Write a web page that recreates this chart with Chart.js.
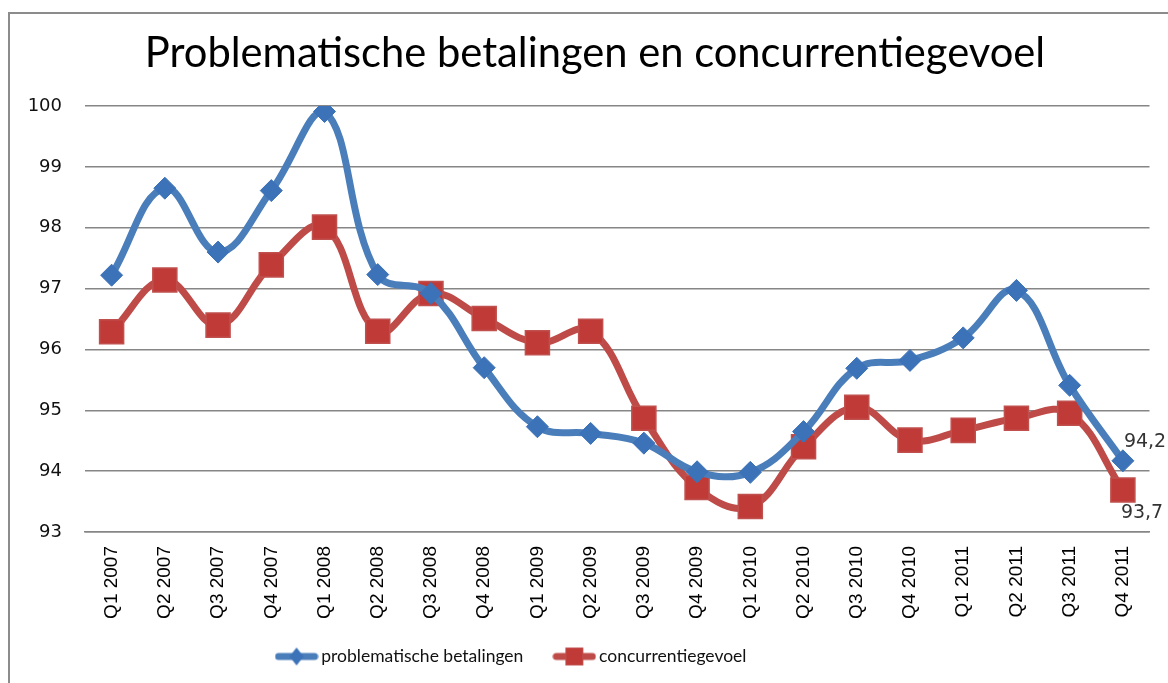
<!DOCTYPE html>
<html>
<head>
<meta charset="utf-8">
<script src="https://cdn.jsdelivr.net/npm/chart.js@4/dist/chart.umd.min.js"></script>
<style>
  html, body { margin: 0; padding: 0; background: #ffffff; }
  #wrap { width: 1168px; height: 683px; position: relative; }
</style>
</head>
<body>
<div id="wrap"><canvas id="c" width="1168" height="683"></canvas></div>
<script>
const categories = ["Q1 2007","Q2 2007","Q3 2007","Q4 2007","Q1 2008","Q2 2008","Q3 2008","Q4 2008","Q1 2009","Q2 2009","Q3 2009","Q4 2009","Q1 2010","Q2 2010","Q3 2010","Q4 2010","Q1 2011","Q2 2011","Q3 2011","Q4 2011"];
const problematischeBetalingen = [97.22,98.65,97.60,98.61,99.91,97.23,96.92,95.70,94.73,94.62,94.46,93.99,93.98,94.65,95.69,95.82,96.19,96.97,95.41,94.17];
const concurrentiegevoel = [96.29,97.14,96.40,97.39,98.01,96.30,96.92,96.51,96.11,96.30,94.87,93.73,93.42,94.40,95.05,94.51,94.67,94.87,94.95,93.69];
const seriesNames = ["problematische betalingen","concurrentiegevoel"];
const chartTitle = "Problematische betalingen en concurrentiegevoel";
const yMin = 93, yMax = 100, yStep = 1;

const BLUE = '#4a7ebb', BLUE_MK = '#3c72b8';
const RED = '#be4b48', RED_MK = '#c03b38';

function legendIcon(lineColor, mkColor, shape) {
  const cv = document.createElement('canvas');
  cv.width = 44; cv.height = 24;
  const c = cv.getContext('2d');
  c.strokeStyle = lineColor; c.lineWidth = 7; c.lineCap = 'round';
  c.beginPath(); c.moveTo(4, 12); c.lineTo(40, 12); c.stroke();
  c.fillStyle = mkColor;
  if (shape === 'diamond') {
    c.beginPath(); c.moveTo(22, 3); c.lineTo(29, 12); c.lineTo(22, 21); c.lineTo(15, 12); c.closePath(); c.fill();
  } else {
    c.fillRect(13, 3, 18, 18);
    c.strokeStyle = '#c0504d'; c.lineWidth = 1; c.strokeRect(13.5, 3.5, 17, 17);
  }
  return cv;
}

const framePlugin = {
  id: 'frame',
  beforeDraw(chart) {
    const ctx = chart.ctx;
    ctx.save();
    ctx.fillStyle = '#ffffff';
    ctx.fillRect(0, 0, chart.width, chart.height);
    ctx.strokeStyle = '#8c8c8c';
    ctx.lineWidth = 2;
    ctx.beginPath();
    ctx.moveTo(9, 700); ctx.lineTo(9, 13); ctx.lineTo(1200, 13);
    ctx.stroke();
    ctx.restore();
  }
};

// shift title and legend like the reference layout
const shiftPlugin = {
  id: 'shiftBlocks',
  afterLayout(chart) {
    if (chart.titleBlock) { chart.titleBlock.left += 28; }
    if (chart.legend) {
      chart.legend.right -= 135;
      chart.legend.top -= 22.25;
      chart.legend.height += 22.25;
    }
  }
};

const endLabelPlugin = {
  id: 'endLabels',
  afterDatasetsDraw(chart) {
    const ctx = chart.ctx;
    ctx.save();
    ctx.font = '19px "DejaVu Sans"';
    ctx.fillStyle = '#333333';
    ctx.textAlign = 'left';
    ctx.textBaseline = 'middle';
    chart.data.datasets.forEach((ds, i) => {
      const meta = chart.getDatasetMeta(i);
      const last = meta.data[meta.data.length - 1];
      const v = ds.data[ds.data.length - 1];
      const txt = v.toFixed(1).replace('.', ',');
      const dy = i === 0 ? -19 : 23;
      ctx.fillText(txt, last.x + (i === 0 ? 1 : -2), last.y + dy);
    });
    ctx.restore();
  }
};

new Chart(document.getElementById('c'), {
  type: 'line',
  data: {
    labels: categories,
    datasets: [
      {
        label: seriesNames[0],
        data: problematischeBetalingen,
        borderColor: BLUE,
        borderWidth: 7,
        tension: 0.4,
        pointStyle: 'rectRot',
        pointRadius: 11,
        pointHoverRadius: 11,
        pointBackgroundColor: BLUE_MK,
        pointBorderColor: BLUE_MK,
        pointBorderWidth: 1,
        fill: false
      },
      {
        label: seriesNames[1],
        data: concurrentiegevoel,
        borderColor: RED,
        borderWidth: 7,
        tension: 0.4,
        pointStyle: 'rect',
        pointRadius: 17,
        pointHoverRadius: 17,
        pointBackgroundColor: RED_MK,
        pointBorderColor: '#c0504d',
        pointBorderWidth: 1.5,
        fill: false
      }
    ]
  },
  options: {
    responsive: false,
    animation: false,
    devicePixelRatio: 1,
    layout: { padding: { left: 10, right: 16, top: 0, bottom: 8 } },
    plugins: {
      title: {
        display: true,
        text: chartTitle,
        color: '#000000',
        font: { family: 'Lato', size: 41.7, weight: 'normal' },
        padding: { top: 29, bottom: 27 }
      },
      legend: {
        display: true,
        position: 'bottom',
        maxHeight: 40,
        labels: {
          color: '#111111',
          font: { family: 'Lato', size: 17.5 },
          usePointStyle: true,
          pointStyleWidth: 32,
          padding: 35,
          generateLabels(chart) {
            return chart.data.datasets.map((ds, i) => ({
              text: ds.label,
              pointStyle: i === 0 ? legendIcon(BLUE, BLUE_MK, 'diamond') : legendIcon(RED, RED_MK, 'square'),
              fillStyle: ds.borderColor,
              strokeStyle: ds.borderColor,
              lineWidth: 0,
              hidden: false,
              datasetIndex: i,
              fontColor: '#111111'
            }));
          }
        }
      },
      tooltip: { enabled: false }
    },
    scales: {
      x: {
        offset: true,
        grid: { display: false, drawTicks: false },
        border: { display: true, color: '#868686', width: 1.5 },
        ticks: {
          color: '#000000',
          font: { family: 'Liberation Sans', size: 19 },
          minRotation: 90,
          maxRotation: 90,
          padding: 14,
          autoSkip: false
        },
        afterFit(s) { s.height = 103; }
      },
      y: {
        min: yMin,
        max: yMax,
        grid: { color: '#868686', lineWidth: 1.5, drawTicks: false },
        border: { display: false },
        ticks: {
          stepSize: yStep,
          color: '#111111',
          font: { family: 'DejaVu Sans', size: 18 },
          padding: 23
        },
        afterFit(s) { s.width = 75; }
      }
    }
  },
  plugins: [framePlugin, shiftPlugin, endLabelPlugin]
});
</script>
</body>
</html>
